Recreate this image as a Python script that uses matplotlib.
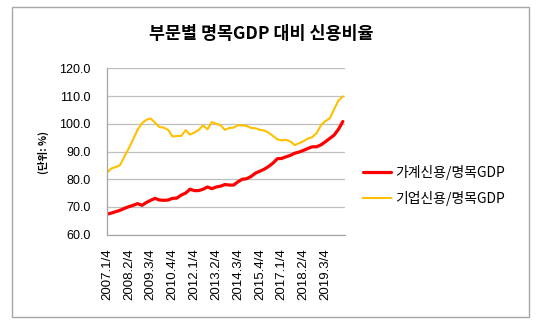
import matplotlib
matplotlib.use("Agg")
import matplotlib.pyplot as plt
from matplotlib.patches import Rectangle

quarters = [f"{y}.{q}/4" for y in range(2007, 2021) for q in range(1, 5)][:55]
tick_labels = ["2007.1/4", "2008.2/4", "2009.3/4", "2010.4/4", "2012.1/4", "2013.2/4",
               "2014.3/4", "2015.4/4", "2017.1/4", "2018.2/4", "2019.3/4"]

household = [67.4, 67.8, 68.3, 68.8, 69.5, 70.1, 70.6, 71.2, 70.6, 71.6,
             72.4, 73.1, 72.5, 72.4, 72.5, 73.1, 73.2, 74.3, 75.0, 76.4,
             75.9, 75.9, 76.4, 77.2, 76.6, 77.2, 77.5, 78.1, 77.9, 77.9,
             79.1, 80.0, 80.2, 81.0, 82.2, 82.9, 83.6, 84.6, 85.8, 87.4,
             87.5, 88.1, 88.6, 89.4, 89.8, 90.4, 91.1, 91.7, 91.7, 92.4,
             93.5, 94.7, 95.9, 98.0, 100.8]
corporate = [82.4, 83.9, 84.4, 85.1, 88.2, 91.2, 94.4, 97.8, 100.2, 101.4,
             101.9, 100.4, 98.8, 98.6, 97.8, 95.4, 95.6, 95.6, 97.7, 96.1,
             96.8, 97.8, 99.4, 98.0, 100.6, 100.0, 99.5, 97.8, 98.5, 98.6,
             99.5, 99.4, 99.2, 98.5, 98.4, 97.8, 97.6, 96.8, 95.6, 94.4,
             94.0, 94.2, 93.6, 92.3, 93.0, 93.7, 94.7, 95.2, 96.6, 99.5,
             101.0, 101.9, 105.2, 108.4, 109.8]
series_names = ["가계신용/명목GDP", "기업신용/명목GDP"]
title = "부문별 명목GDP 대비 신용비율"
y_label = "(단위: %)"

KR = ["Noto Sans CJK KR", "DejaVu Sans"]

fig = plt.figure(figsize=(5.4, 3.29), dpi=100)
fig.patch.set_facecolor("white")
fig.add_artist(Rectangle((12/540, 1-317/329), (529-12)/540, (317-7)/329,
                         transform=fig.transFigure, fill=False,
                         edgecolor="#a6a6a6", linewidth=1.0))

ax = fig.add_axes([107/540, 1-234.7/329, (345-107)/540, (234.7-68.3)/329])
x = list(range(len(quarters)))
ax.plot(x, household, color="#FF0000", linewidth=2.3, label=series_names[0], solid_capstyle="round")
ax.plot(x, corporate, color="#FFC000", linewidth=1.5, label=series_names[1])

ax.set_ylim(60, 120)
ax.set_yticks([60, 70, 80, 90, 100, 110, 120])
ax.set_yticklabels([f"{v:.1f}" for v in [60, 70, 80, 90, 100, 110, 120]],
                   family="Liberation Sans", fontsize=9)
ax.set_xlim(0, 54.5)
ax.set_xticks([quarters.index(t) for t in tick_labels])
ax.set_xticklabels(tick_labels, rotation=90, family="Liberation Sans", fontsize=9.5,
                   va="top", ha="center")
ax.tick_params(axis="both", length=0)
ax.tick_params(axis="x", pad=10)
ax.tick_params(axis="y", pad=12)
ax.grid(axis="y", color="#bfbfbf", linewidth=0.9)
ax.set_axisbelow(True)
for s in ["top", "right"]:
    ax.spines[s].set_visible(False)
for s in ["left", "bottom"]:
    ax.spines[s].set_color("#a6a6a6")
    ax.spines[s].set_linewidth(0.9)

fig.text(43/540, 1-152/329, y_label, rotation=90, ha="center", va="center",
         family=KR, fontsize=7.5, fontweight="bold")
fig.text(261/540, 1-34/329, title, ha="center", va="center",
         family=KR, fontsize=12.5, fontweight="bold")

fig.legend(loc="center left", bbox_to_anchor=(363/540, 1-185.5/329),
           frameon=False, borderpad=0, borderaxespad=0, handlelength=2.0,
           handletextpad=0.3, labelspacing=0.75,
           prop={"family": KR, "size": 10})

fig.savefig("out.png", dpi=100, facecolor="white")
